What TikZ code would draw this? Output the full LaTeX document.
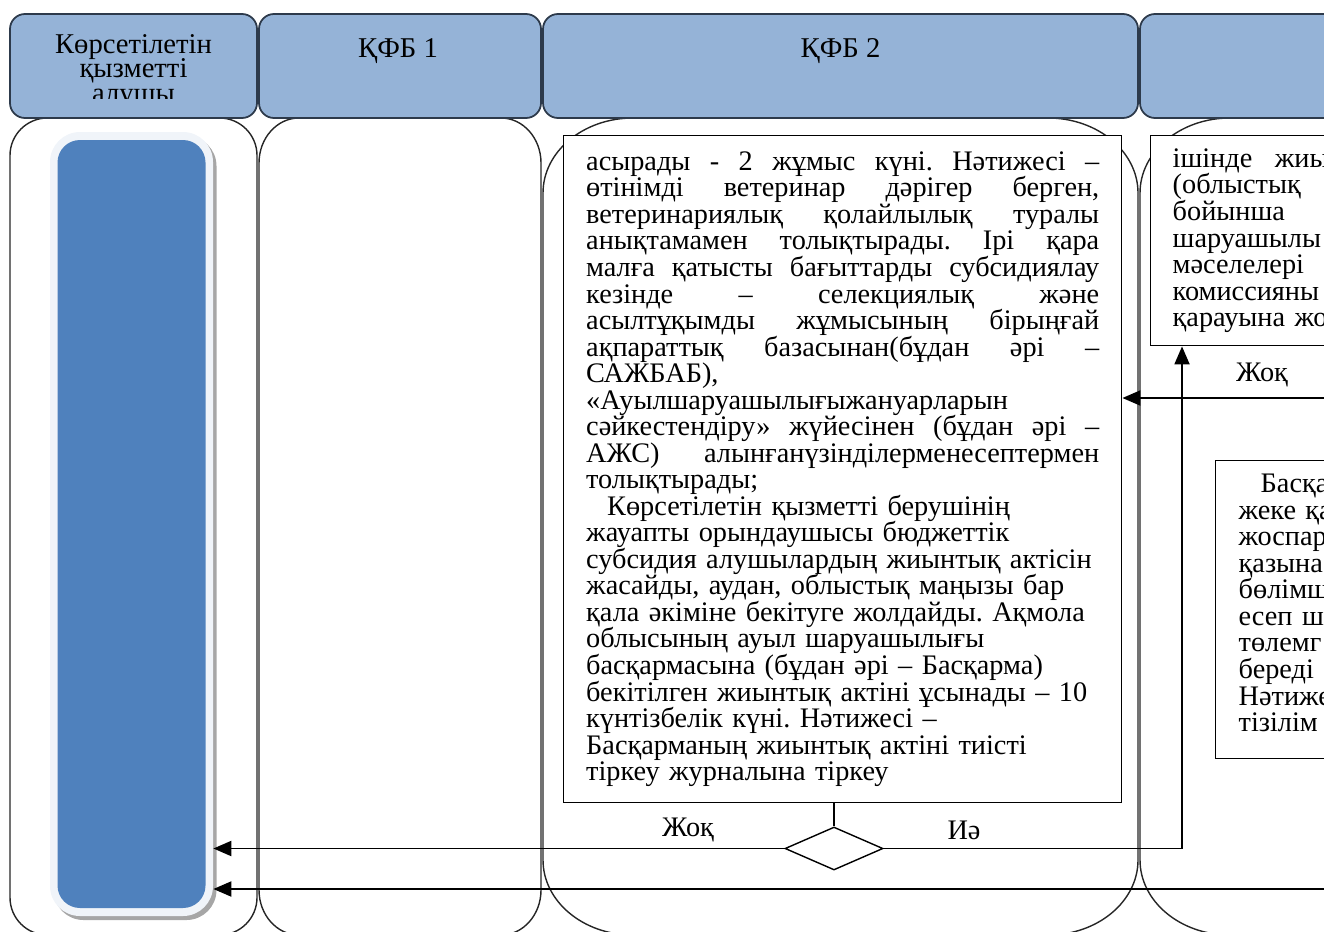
\documentclass[tikz,border=0pt]{standalone}
\usepackage{fontspec}
\setmainfont{Liberation Serif}
\usetikzlibrary{shapes.geometric,arrows.meta,shadows}
\definecolor{hdfill}{RGB}{149,179,215}
\definecolor{hdline}{RGB}{45,58,75}
\definecolor{clblue}{RGB}{79,129,189}
\definecolor{clrim}{RGB}{240,244,249}
\frenchspacing
\newcommand{\jl}[1]{\leavevmode\hbox to 10.26cm{\spaceskip=0.25em plus 1fil\xspaceskip=0.25em plus 1fil\relax#1}}
\newcommand{\rl}[1]{\makebox[10.26cm][l]{#1}}
\tikzset{
	header/.style={draw=hdline, fill=hdfill, line width=1pt, rounded corners=0.3cm},
	lane/.style={draw=black!85, line width=0.8pt},
	hdtext/.style={font=\fontsize{16.3}{13.9}\selectfont, inner sep=0pt, align=center, execute at begin node=\setlength{\lineskiplimit}{-20pt}},
	txtbox/.style={draw, line width=0.8pt, fill=white, font=\fontsize{16.1}{15.1}\selectfont, text width=10.26cm, align=left, inner ysep=0pt, anchor=north west, execute at begin node=\setlength{\lineskiplimit}{-20pt}},
	lbl/.style={font=\fontsize{16.1}{15.1}\selectfont, inner sep=0pt},
	rim/.style={fill=clrim, rounded corners=0.6cm, drop shadow={shadow xshift=0.07cm, shadow yshift=-0.08cm, fill=black!35, opacity=1}},
	rimin/.style={fill=clblue, rounded corners=0.45cm},
	decision/.style={draw, diamond, fill=white, line width=0.8pt, minimum width=1.96cm, minimum height=0.86cm, inner sep=0pt},
	arr/.style={line width=1.1pt, -{Triangle[length=0.36cm,width=0.3cm]}},
	wire/.style={line width=0.9pt},
}

\begin{document}
\begin{tikzpicture}
					\useasboundingbox (0,0) rectangle (26.48,-18.62);
					% Lanes and headers:
					\draw[lane, x radius=0.75cm, y radius=0.75cm] (0.2,-3.11) arc[start angle=180, end angle=90] -- (4.39,-2.36) arc[start angle=90, end angle=0] -- (5.14,-17.95) arc[start angle=0, end angle=-90] -- (0.95,-18.7) arc[start angle=270, end angle=180] -- cycle;
					\draw[lane, x radius=0.8cm, y radius=0.9cm] (5.18,-3.26) arc[start angle=180, end angle=90] -- (10.02,-2.36) arc[start angle=90, end angle=0] -- (10.82,-17.8) arc[start angle=0, end angle=-90] -- (5.98,-18.7) arc[start angle=270, end angle=180] -- cycle;
					\draw[lane, x radius=1.8cm, y radius=1.5cm] (10.86,-3.86) arc[start angle=180, end angle=90] -- (20.96,-2.36) arc[start angle=90, end angle=0] -- (22.76,-17.2) arc[start angle=0, end angle=-90] -- (12.66,-18.7) arc[start angle=270, end angle=180] -- cycle;
					\draw[lane, x radius=1.8cm, y radius=1.5cm] (22.8,-3.86) arc[start angle=180, end angle=90] -- (32.9,-2.36) arc[start angle=90, end angle=0] -- (34.7,-17.2) arc[start angle=0, end angle=-90] -- (24.6,-18.7) arc[start angle=270, end angle=180] -- cycle;
					\draw[header] (0.2,-0.28) rectangle (5.14,-2.36);
					\draw[header] (5.18,-0.28) rectangle (10.82,-2.36);
					\draw[header] (10.86,-0.28) rectangle (22.76,-2.36);
					\draw[header] (22.8,-0.28) rectangle (30,-2.36);
					\begin{scope}
						\clip (0.2,-0.28) rectangle (5.14,-1.97);
						\node[hdtext, anchor=north] (hd1) at (2.67,-0.68) {Көрсетілетін\\қызметті\\алушы};
					\end{scope}
					\node[hdtext, anchor=base] (hd2) at (7.96,-1.16) {ҚФБ 1};
					\node[hdtext, anchor=base] (hd3) at (16.81,-1.16) {ҚФБ 2};
					% Boxes:
					\node[rim, minimum width=3.26cm, minimum height=15.68cm] (client) at (2.63,-10.48) {};
					\node[rimin, minimum width=2.96cm, minimum height=15.36cm] (clientin) at (client.center) {};
					\node[txtbox, inner xsep=0.45cm, minimum width=11.16cm, minimum height=13.34cm] (main) at (11.26,-2.7) {%
						\jl{асырады - 2 жұмыс күні. Нәтижесі –}\\
						\jl{өтінімді ветеринар дәрігер берген,}\\
						\jl{ветеринариялық қолайлылық туралы}\\
						\jl{анықтамамен толықтырады. Ірі қара}\\
						\jl{малға қатысты бағыттарды субсидиялау}\\
						\jl{кезінде – селекциялық және}\\
						\jl{асылтұқымды жұмысының бірыңғай}\\
						\jl{ақпараттық базасынан(бұдан әрі –}\\
						\rl{САЖБАБ),}\\
						\rl{«Ауылшаруашылығыжануарларын}\\
						\jl{сәйкестендіру» жүйесінен (бұдан әрі –}\\
						\jl{АЖС) алынғанүзінділерменесептермен}\\
						\rl{толықтырады;}\\
						\rl{\hspace*{0.42cm}Көрсетілетін қызметті берушінің}\\
						\rl{жауапты орындаушысы бюджеттік}\\
						\rl{субсидия алушылардың жиынтық актісін}\\
						\rl{жасайды, аудан, облыстық маңызы бар}\\
						\rl{қала әкіміне бекітуге жолдайды. Ақмола}\\
						\rl{облысының ауыл шаруашылығы}\\
						\rl{басқармасына (бұдан әрі – Басқарма)}\\
						\rl{бекітілген жиынтық актіні ұсынады – 10}\\
						\rl{күнтізбелік күні. Нәтижесі –}\\
						\rl{Басқарманың жиынтық актіні тиісті}\\
						\rl{тіркеу журналына тіркеу}};
					\node[txtbox, inner xsep=0.44cm, minimum height=4.2cm] (box4a) at (23.0,-2.7) {%
						ішінде\hspace{0.45cm}жиы\\(облыстық\\бойынша\\шаруашылы\\мәселелері\\комиссияны\\қарауына жо};
					\node[txtbox, inner xsep=0.46cm, minimum height=5.96cm, text depth=5.05cm] (box4b) at (24.3,-9.2) {%
						\hspace*{0.44cm}Басқа\\жеке қа\\жоспар\\қазына\\бөлімш\\есеп ш\\төлемг\\береді\\Нәтиже\\тізілім};
					\node[decision] (dec) at (16.68,-16.97) {};
					% Wires and arrows:
					\coordinate (inA) at (26.7,-7.96);
					\coordinate (inB) at (26.7,-17.78);
					\draw[wire] (dec.north) -- (dec.north |- main.south);
					\draw[arr] (dec.west) -- (dec.west -| client.east);
					\draw[arr] (dec.east) -| ([xshift=0.64cm]box4a.south west);
					\draw[arr] (inA) -- (inA -| main.east);
					\draw[arr] (inB) -- (inB -| client.east);
					\node[lbl] (no1) at (25.24,-7.5) {Жоқ};
					\node[lbl] (no2) at (13.76,-16.6) {Жоқ};
					\node[lbl] (yes) at (19.28,-16.6) {Иә};
				\end{tikzpicture}
\end{document}
